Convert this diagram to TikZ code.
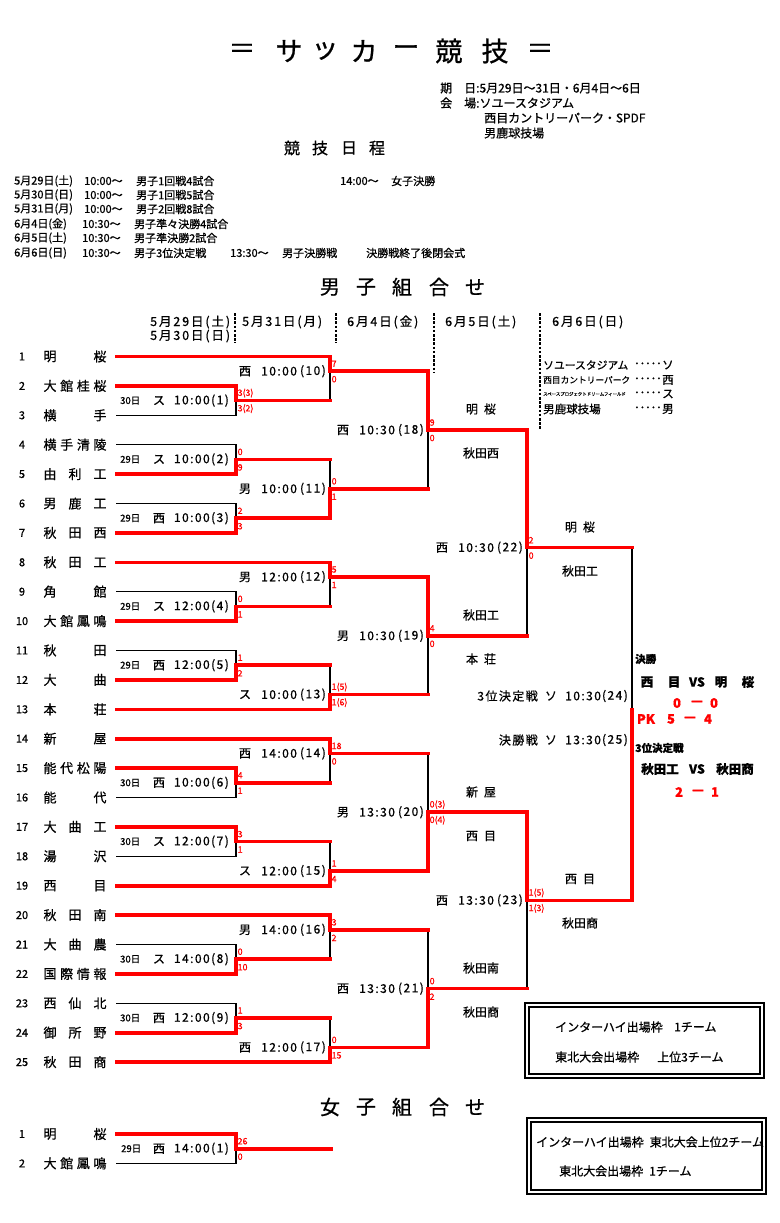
\documentclass[tikz,border=0pt]{standalone}
\usepackage{fontspec}
\setmainfont{Noto Sans CJK JP}[FakeBold=0.8]
\newcommand\mpass{0}
\tikzset{
  rl/.style={draw=red,line width=3.6pt,line cap=rect},
  bl/.style={draw=black,line width=1.5pt,line cap=rect},
  colsep/.style={draw=black,line width=1.6pt,dash pattern=on 2.6pt off 1.6pt},
  sc/.style={text=red,font=\fontsize{8.8}{9}\selectfont,inner sep=0pt,anchor=west},
  tm/.style={font=\fontsize{13}{13}\selectfont,inner sep=0pt},
  num/.style={font=\fontsize{11}{11}\selectfont,inner sep=0pt},
  lab/.style={font=\fontsize{12}{12}\selectfont\addfontfeature{LetterSpace=12},inner sep=0pt},
  labs/.style={font=\fontsize{9.5}{10}\selectfont,inner sep=0pt,anchor=west},
  mid/.style={font=\fontsize{12}{12}\selectfont,inner sep=0pt},
  hdr/.style={font=\fontsize{12.5}{13}\selectfont\addfontfeature{LetterSpace=15},inner sep=0pt,anchor=west},
  info/.style={font=\fontsize{12}{12}\selectfont,inner sep=0pt,anchor=west},
  sched/.style={font=\fontsize{11}{11}\selectfont,inner sep=0pt,anchor=west},
  big/.style={font=\fontsize{27}{27}\selectfont,inner sep=0pt},
  sect/.style={font=\fontsize{20}{20}\selectfont,inner sep=0pt},
  res/.style={font=\fontsize{12.5}{13}\selectfont\bfseries,inner sep=0pt},
  resr/.style={font=\fontsize{13}{13}\selectfont\bfseries,text=red,inner sep=0pt},
  resh/.style={font=\fontsize{10.5}{11}\selectfont\bfseries,inner sep=0pt,anchor=west},
  boxt/.style={font=\fontsize{12}{12}\selectfont,inner sep=0pt,anchor=west},
  leg/.style={inner sep=0pt,anchor=west},
}
% match: #1 xv, #2 xnext, #3 ktop, #4 kbot, #5 kout, #6 winner(0 top,1 bottom), #7 top score, #8 bottom score
\newcommand\Mch[8]{%
  \pgfmathsetmacro\yT{356.5+14.7*#3}%
  \pgfmathsetmacro\yB{356.5+14.7*#4}%
  \pgfmathsetmacro\yO{356.5+14.7*#5}%
  \ifnum#6=0 \let\yW\yT \let\yL\yB \else \let\yW\yB \let\yL\yT \fi
  \ifnum\mpass=0 \draw[bl] (#1,\yL) -- (#1,\yO); \fi
  \ifnum\mpass=1 \draw[rl] (#1,\yW) -- (#1,\yO) -- (#2,\yO); \fi
  \ifnum\mpass=2
    \node[sc] at (#1+1.5,\yO-7.5) {#7};
    \node[sc] at (#1+1.5,\yO+8) {#8};
  \fi
}
% team: #1 number, #2 k, #3 xend, #4 red(1)/black(0), #5 char count, #6 chars
\newcommand\Tm[6]{%
  \pgfmathsetmacro\yy{356.5+14.7*#2}%
  \ifnum\mpass=0 \ifnum#4=0 \draw[bl] (117,\yy) -- (#3,\yy); \fi\fi
  \ifnum\mpass=1 \ifnum#4=1 \draw[rl] (117,\yy) -- (#3,\yy); \fi\fi
  \ifnum\mpass=2
    \node[num] at (22,\yy) {#1};
    \foreach \c [count=\i] in {#6} {\node[tm] at ({50+(\i-1)*50/(#5-1)},\yy) {\c};}
  \fi
}
% first round label: #1 k, #2 day, #3 venue, #4 time(num)
\newcommand\LA[4]{%
  \pgfmathsetmacro\yy{356.5+14.7*#1}%
  \node[labs] at (120,\yy) {#2};
  \node[lab] at (159,\yy) {#3};
  \node[lab,anchor=east] at (229,\yy) {#4};
}
% later round label: #1 xv, #2 k, #3 venue, #4 time, #5 num
\newcommand\LB[5]{%
  \pgfmathsetmacro\yy{356.5+14.7*#2}%
  \node[lab] at (#1-85,\yy) {#3};
  \node[lab,anchor=west] at (#1-69,\yy) {#4};
  \node[lab,anchor=east] at (#1-4,\yy) {#5};
}
\newcommand\AllTeams{%
  \Tm{1}{0}{330}{1}{2}{明,桜}
  \Tm{2}{2}{236}{1}{4}{大,館,桂,桜}
  \Tm{3}{4}{236}{0}{2}{横,手}
  \Tm{4}{6}{236}{0}{4}{横,手,清,陵}
  \Tm{5}{8}{236}{1}{3}{由,利,工}
  \Tm{6}{10}{236}{0}{3}{男,鹿,工}
  \Tm{7}{12}{236}{1}{3}{秋,田,西}
  \Tm{8}{14}{330}{1}{3}{秋,田,工}
  \Tm{9}{16}{236}{0}{2}{角,館}
  \Tm{10}{18}{236}{1}{4}{大,館,鳳,鳴}
  \Tm{11}{20}{236}{0}{2}{秋,田}
  \Tm{12}{22}{236}{1}{2}{大,曲}
  \Tm{13}{24}{330}{1}{2}{本,荘}
  \Tm{14}{26}{330}{1}{2}{新,屋}
  \Tm{15}{28}{236}{1}{4}{能,代,松,陽}
  \Tm{16}{30}{236}{0}{2}{能,代}
  \Tm{17}{32}{236}{1}{3}{大,曲,工}
  \Tm{18}{34}{236}{0}{2}{湯,沢}
  \Tm{19}{36}{330}{1}{2}{西,目}
  \Tm{20}{38}{330}{1}{3}{秋,田,南}
  \Tm{21}{40}{236}{0}{3}{大,曲,農}
  \Tm{22}{42}{236}{1}{4}{国,際,情,報}
  \Tm{23}{44}{236}{0}{3}{西,仙,北}
  \Tm{24}{46}{236}{1}{3}{御,所,野}
  \Tm{25}{48}{330}{1}{3}{秋,田,商}
}
\newcommand\AllMatches{%
  \Mch{236}{330}{2}{4}{3}{0}{3(3)}{3(2)}
  \Mch{236}{330}{6}{8}{7}{1}{0}{9}
  \Mch{236}{330}{10}{12}{11}{1}{2}{3}
  \Mch{236}{330}{16}{18}{17}{1}{0}{1}
  \Mch{236}{330}{20}{22}{21}{1}{1}{2}
  \Mch{236}{330}{28}{30}{29}{0}{4}{1}
  \Mch{236}{330}{32}{34}{33}{0}{3}{1}
  \Mch{236}{330}{40}{42}{41}{1}{0}{10}
  \Mch{236}{330}{44}{46}{45}{1}{1}{3}
  \Mch{330}{428}{0}{3}{1}{0}{7}{0}
  \Mch{330}{428}{7}{11}{9}{1}{0}{1}
  \Mch{330}{428}{14}{17}{15}{0}{5}{1}
  \Mch{330}{428}{21}{24}{23}{1}{1(5)}{1(6)}
  \Mch{330}{428}{26}{29}{27}{0}{18}{0}
  \Mch{330}{428}{33}{36}{35}{1}{1}{4}
  \Mch{330}{428}{38}{41}{39}{0}{3}{2}
  \Mch{330}{428}{45}{48}{47}{1}{0}{15}
  \Mch{428}{527}{1}{9}{5}{0}{9}{0}
  \Mch{428}{527}{15}{23}{19}{0}{4}{0}
  \Mch{428}{527}{27}{35}{31}{1}{0(3)}{0(4)}
  \Mch{428}{527}{39}{47}{43}{1}{0}{2}
  \Mch{527}{632}{5}{19}{13}{0}{2}{0}
  \Mch{527}{632}{31}{43}{37}{0}{1(5)}{1(3)}
}
\begin{document}
\begin{tikzpicture}[x=1pt,y=-1pt]
\useasboundingbox (0,0) rectangle (779,1223);
\fill[white] (0,0) rectangle (779,1223);

% ---- title
\foreach \c/\x in {＝/242,サ/289,ッ/325,カ/364,ー/406,競/449,技/495,＝/540}
  {\node[big] (t\x) at (\x,51) {\c};}
\node[info] (i1) at (440,88) {期　日:5月29日～31日・6月4日～6日};
\node[info] (i2) at (440,103) {会　場:ソユースタジアム};
\node[info] (i3) at (484,118) {西目カントリーパーク・SPDF};
\node[info] (i4) at (484,133) {男鹿球技場};
\foreach \c/\x in {競/292,技/320,日/349,程/377}
  {\node[font=\fontsize{16}{16}\selectfont,inner sep=0pt] (k\x) at (\x,148) {\c};}

% ---- schedule
\node[sched] (s1a) at (14,181) {5月29日(土)};
\node[sched] (s1b) at (84,181) {10:00～};
\node[sched] (s1c) at (136,181) {男子1回戦4試合};
\node[sched] (s1d) at (340,181) {14:00～};
\node[sched] (s1e) at (391,181) {女子決勝};
\node[sched] (s2a) at (14,195) {5月30日(日)};
\node[sched] (s2b) at (84,195) {10:00～};
\node[sched] (s2c) at (136,195) {男子1回戦5試合};
\node[sched] (s3a) at (14,209) {5月31日(月)};
\node[sched] (s3b) at (84,209) {10:00～};
\node[sched] (s3c) at (136,209) {男子2回戦8試合};
\node[sched] (s4a) at (14,224) {6月4日(金)};
\node[sched] (s4b) at (82,224) {10:30～};
\node[sched] (s4c) at (134,224) {男子準々決勝4試合};
\node[sched] (s5a) at (14,238) {6月5日(土)};
\node[sched] (s5b) at (82,238) {10:30～};
\node[sched] (s5c) at (134,238) {男子準決勝2試合};
\node[sched] (s6a) at (14,253) {6月6日(日)};
\node[sched] (s6b) at (82,253) {10:30～};
\node[sched] (s6c) at (134,253) {男子3位決定戦};
\node[sched] (s6d) at (230,253) {13:30～};
\node[sched] (s6e) at (282,253) {男子決勝戦};
\node[sched] (s6f) at (366,253) {決勝戦終了後閉会式};

% ---- section title
\foreach \c/\x in {男/330,子/366,組/402,合/439,せ/475}
  {\node[sect] (m\x) at (\x,287) {\c};}

% ---- column headers
\node[hdr] (h1) at (150,322) {5月29日(土)};
\node[hdr] (h2) at (150,336) {5月30日(日)};
\node[hdr] (h3) at (242,322) {5月31日(月)};
\node[hdr] (h4) at (347,322) {6月4日(金)};
\node[hdr] (h5) at (445,322) {6月5日(土)};
\node[hdr] (h6) at (552,322) {6月6日(日)};
\draw[colsep] (235,313) -- (235,343);
\draw[colsep] (336,313) -- (336,343);
\draw[colsep] (434,313) -- (434,372);
\draw[colsep] (540,313) -- (540,430);

% ---- legend
\node[leg,font=\fontsize{10.8}{11}\selectfont] (g1) at (543,365) {ソユースタジアム};
\node[leg,font=\fontsize{8.7}{9}\selectfont] (g2) at (543,380) {西目カントリーパーク};
\node[leg,font=\fontsize{4.4}{5}\selectfont] (g3) at (543,394) {スペースプロジェクトドリームフィールド};
\node[leg,font=\fontsize{11.5}{12}\selectfont] (g4) at (543,409) {男鹿球技場};
\foreach \y/\c in {365/ソ,380/西,394/ス,409/男}{
  \node[leg,font=\fontsize{11}{11}\selectfont] at (634,\y) {･････};
  \node[leg,font=\fontsize{11.5}{12}\selectfont] at (662,\y) {\c};
}

% ---- bracket lines
\renewcommand\mpass{0}\AllTeams\AllMatches
\pgfmathsetmacro\yF{356.5+14.7*13}\pgfmathsetmacro\yG{356.5+14.7*24}
\draw[bl] (632,\yF) -- (632,\yG);
\renewcommand\mpass{1}\AllTeams\AllMatches
\pgfmathsetmacro\yH{356.5+14.7*37}
\draw[rl] (632,\yH) -- (632,\yG);
\renewcommand\mpass{2}\AllTeams\AllMatches

% ---- match labels
\LA{3}{30日}{ス}{10:00(1)}
\LA{7}{29日}{ス}{10:00(2)}
\LA{11}{29日}{西}{10:00(3)}
\LA{17}{29日}{ス}{12:00(4)}
\LA{21}{29日}{西}{12:00(5)}
\LA{29}{30日}{西}{10:00(6)}
\LA{33}{30日}{ス}{12:00(7)}
\LA{41}{30日}{ス}{14:00(8)}
\LA{45}{30日}{西}{12:00(9)}
\LB{330}{1}{西}{10:00}{(10)}
\LB{330}{9}{男}{10:00}{(11)}
\LB{330}{15}{男}{12:00}{(12)}
\LB{330}{23}{ス}{10:00}{(13)}
\LB{330}{27}{西}{14:00}{(14)}
\LB{330}{35}{ス}{12:00}{(15)}
\LB{330}{39}{男}{14:00}{(16)}
\LB{330}{47}{西}{12:00}{(17)}
\LB{428}{5}{西}{10:30}{(18)}
\LB{428}{19}{男}{10:30}{(19)}
\LB{428}{31}{男}{13:30}{(20)}
\LB{428}{43}{西}{13:30}{(21)}
\LB{527}{13}{西}{10:30}{(22)}
\LB{527}{37}{西}{13:30}{(23)}
\node[lab,anchor=east] (p24) at (538,696) {3位決定戦};
\node[lab] (v24) at (551,696) {ソ};
\node[lab,anchor=west] (t24) at (565,696) {10:30};
\node[lab,anchor=east] (n24) at (628,696) {(24)};
\node[lab,anchor=east] (p25) at (538,740) {決勝戦};
\node[lab] (v25) at (551,740) {ソ};
\node[lab,anchor=west] (t25) at (565,740) {13:30};
\node[lab,anchor=east] (n25) at (628,740) {(25)};

% ---- winners in later columns
\node[mid] (w1) at (481,409) {明\hspace{6pt}桜};
\node[mid] (w2) at (481,453) {秋田西};
\node[mid] (w3) at (580,527) {明\hspace{6pt}桜};
\node[mid] (w4) at (580,571) {秋田工};
\node[mid] (w5) at (481,615) {秋田工};
\node[mid] (w6) at (481,659) {本\hspace{6pt}荘};
\node[mid] (w7) at (481,792) {新\hspace{6pt}屋};
\node[mid] (w8) at (481,836) {西\hspace{6pt}目};
\node[mid] (w9) at (580,879) {西\hspace{6pt}目};
\node[mid] (w10) at (580,923) {秋田商};
\node[mid] (w11) at (481,968) {秋田南};
\node[mid] (w12) at (481,1012) {秋田商};

% ---- results
\node[resh] (r0) at (635,659) {決勝};
\foreach \c/\x in {西/647,目/674,VS/697,明/721,桜/748}{\node[res] at (\x,682) {\c};}
\foreach \c/\x in {0/677,—/697,0/714}{\node[resr] at (\x,703) {\c};}
\foreach \c/\x in {PK/646,5/671,—/690,4/708}{\node[resr] at (\x,719) {\c};}
\node[resh] (r1) at (635,748) {3位決定戦};
\foreach \c/\x in {秋田工/660,VS/697,秋田商/735}{\node[res] at (\x,769) {\c};}
\foreach \c/\x in {2/679,—/698,1/715}{\node[resr] at (\x,792) {\c};}

% ---- box 1
\draw[line width=2.4pt] (525,1003) rectangle (764,1078);
\draw[line width=1.2pt] (529,1007) rectangle (760,1074);
\node[boxt] (b1) at (555,1027) {インターハイ出場枠};
\node[boxt] (b2) at (674,1027) {1チーム};
\node[boxt] (b3) at (555,1057) {東北大会出場枠};
\node[boxt] (b4) at (657,1057) {上位3チーム};

% ---- women
\foreach \c/\x in {女/330,子/366,組/402,合/439,せ/475}
  {\node[sect] (f\x) at (\x,1107) {\c};}
\draw[bl] (117,1163.4) -- (236,1163.4) -- (236,1148.7);
\draw[rl] (117,1134) -- (236,1134) -- (236,1148.7) -- (331,1148.7);
\node[num] (fn1) at (22,1134) {1};
\node[tm] (fa1) at (50,1134) {明};
\node[tm] (fa2) at (100,1134) {桜};
\node[num] (fn2) at (22,1163.4) {2};
\foreach \c/\x in {大/50,館/66.7,鳳/83.3,鳴/100}{\node[tm] at (\x,1163.4) {\c};}
\node[labs] (fl1) at (121,1148.7) {29日};
\node[lab] (fl2) at (159,1148.7) {西};
\node[lab,anchor=east] (fl3) at (229,1148.7) {14:00(1)};
\node[sc] (fs1) at (237.5,1141.2) {26};
\node[sc] (fs2) at (237.5,1156.7) {0};

% ---- box 2
\draw[line width=2.4pt] (527,1118) rectangle (766,1194);
\draw[line width=1.2pt] (531,1122) rectangle (762,1190);
\node[boxt] (c1) at (536,1142) {インターハイ出場枠\hspace{0.5em}東北大会上位2チーム};
\node[boxt] (c2) at (559,1171) {東北大会出場枠\hspace{0.5em}1チーム};
\end{tikzpicture}
\end{document}
